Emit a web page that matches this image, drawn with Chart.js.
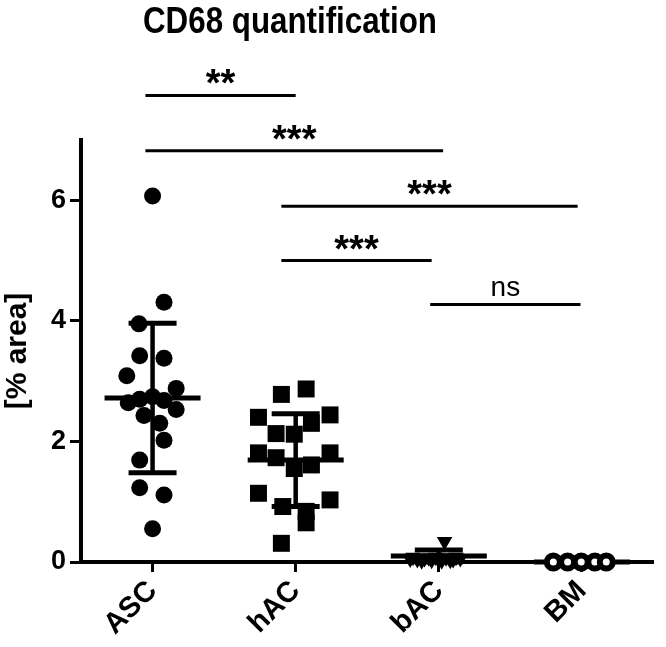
<!DOCTYPE html>
<html>
<head>
<meta charset="utf-8">
<script src="https://cdn.jsdelivr.net/npm/chart.js@4/dist/chart.umd.min.js"></script>
<style>
  html, body { margin: 0; padding: 0; background: #fff; }
</style>
</head>
<body>
<canvas id="cd68" width="666" height="647"></canvas>
<script>
// Groups and values
const groups = ["ASC", "hAC", "bAC", "BM"];

const ascY = [6.07, 4.31, 3.95, 3.42, 3.38, 3.09, 2.88, 2.64, 2.70, 2.74, 2.68, 2.53, 2.43, 2.30, 2.02, 1.69, 1.23, 1.11, 0.55];
const ascX = [0, 0.08, -0.095, -0.09, 0.08, -0.18, 0.165, -0.17, -0.09, 0, 0.08, 0.165, -0.06, 0.05, 0.08, -0.09, -0.09, 0.08, 0];

const hacY = [2.78, 2.87, 2.40, 2.44, 2.30, 2.13, 2.12, 1.81, 1.73, 1.81, 1.55, 1.61, 1.14, 1.03, 0.92, 0.84, 0.65, 0.31];
const hacX = [-0.1, 0.073, -0.26, 0.24, 0.11, -0.137, -0.01, -0.26, -0.137, 0.24, -0.01, 0.11, -0.26, 0.24, -0.09, 0.073, 0.073, -0.1];

const bacY = [0.34, 0.05, 0.04, 0.06, 0.03, 0.05, 0.07, 0.04, 0.06, 0.08, 0.02, 0.08, 0.03, 0.08, 0.07, 0.02];
const bacX = [0.04, -0.2, -0.15, -0.1, -0.05, 0, 0.05, 0.1, 0.15, -0.18, -0.12, -0.02, 0.08, 0.12, -0.07, 0.02];

const bmY = [0, 0, 0, 0, 0];
const bmX = [-0.2, -0.1, -0.005, 0.09, 0.17];

// mean and SD per group (error bars)
const groupMeans = [2.72, 1.69, 0.1, 0];
const groupSDs = [1.24, 0.77, 0.1, 0];

const yTicks = [0, 2, 4, 6];

// significance brackets
const sigFrom = [-0.05, -0.05, 0.9, 0.9, 1.94];
const sigTo = [1.0, 2.03, 2.97, 1.95, 2.99];
const sigLevel = [7.74, 6.82, 5.9, 5.0, 4.27];
const sigText = ["**", "***", "***", "***", "ns"];

const FONT = "'Liberation Sans', Arial, sans-serif";

function points(group, xs, ys) {
  return ys.map((v, i) => ({ x: group + xs[i], y: v }));
}

const statsPlugin = {
  id: "stats",
  beforeDatasetsDraw(chart) {
    const { ctx } = chart;
    const x = chart.scales.x;
    const y = chart.scales.y;
    ctx.save();
    ctx.strokeStyle = "#000";
    groups.forEach((g, i) => {
      const cx = x.getPixelForValue(i);
      const m = y.getPixelForValue(groupMeans[i]);
      const hi = y.getPixelForValue(groupMeans[i] + groupSDs[i]);
      const lo = y.getPixelForValue(groupMeans[i] - groupSDs[i]);
      ctx.lineWidth = 5;
      ctx.beginPath();
      ctx.moveTo(cx - 48, m);
      ctx.lineTo(cx + 48, m);
      ctx.stroke();
      if (groupSDs[i] > 0) {
        ctx.lineWidth = 4.5;
        ctx.beginPath();
        ctx.moveTo(cx, hi);
        ctx.lineTo(cx, lo);
        ctx.stroke();
        ctx.lineWidth = 5;
        ctx.beginPath();
        ctx.moveTo(cx - 24, hi);
        ctx.lineTo(cx + 24, hi);
        ctx.moveTo(cx - 24, lo);
        ctx.lineTo(cx + 24, lo);
        ctx.stroke();
      }
    });
    ctx.restore();
  },
  afterDraw(chart) {
    const { ctx } = chart;
    const x = chart.scales.x;
    const y = chart.scales.y;
    ctx.save();
    ctx.fillStyle = "#000";
    ctx.strokeStyle = "#000";
    ctx.lineWidth = 3;
    ctx.textAlign = "center";
    ctx.textBaseline = "alphabetic";
    sigText.forEach((t, i) => {
      const x1 = x.getPixelForValue(sigFrom[i]);
      const x2 = x.getPixelForValue(sigTo[i]);
      const ly = y.getPixelForValue(sigLevel[i]);
      ctx.beginPath();
      ctx.moveTo(x1, ly);
      ctx.lineTo(x2, ly);
      ctx.stroke();
      if (t === "ns") {
        ctx.font = "28px " + FONT;
        ctx.letterSpacing = "0px";
        ctx.fillText(t, (x1 + x2) / 2, ly - 9);
      } else {
        ctx.font = "bold 38px " + FONT;
        ctx.letterSpacing = "0px";
        ctx.fillText(t, (x1 + x2) / 2, ly + 1);
      }
    });

    // chart title, slightly condensed
    ctx.font = "bold 37px " + FONT;
    const title = "CD68 quantification";
    const w = ctx.measureText(title).width;
    ctx.translate(290, 33);
    ctx.scale(294 / w, 1);
    ctx.fillText(title, 0, 0);
    ctx.restore();
  }
};

new Chart(document.getElementById("cd68"), {
  type: "scatter",
  data: {
    datasets: [
      { label: "ASC", data: points(0, ascX, ascY), pointStyle: "circle", pointRadius: 8.5, backgroundColor: "#000", borderColor: "#000", borderWidth: 0 },
      { label: "hAC", data: points(1, hacX, hacY), pointStyle: "rect", pointRadius: 12, backgroundColor: "#000", borderColor: "#000", borderWidth: 0 },
      { label: "bAC", data: points(2, bacX, bacY), pointStyle: "triangle", pointRotation: 180, pointRadius: 9, backgroundColor: "#000", borderColor: "#000", borderWidth: 0 },
      { label: "BM", data: points(3, bmX, bmY), pointStyle: "circle", pointRadius: 6.5, backgroundColor: "#fff", borderColor: "#000", borderWidth: 6 }
    ]
  },
  options: {
    responsive: false,
    animation: false,
    clip: false,
    layout: { padding: { top: 140, left: 0, right: 0, bottom: 0 } },
    plugins: {
      legend: { display: false },
      tooltip: { enabled: false }
    },
    scales: {
      x: {
        type: "linear",
        min: -0.5,
        max: 3.5,
        afterBuildTicks: s => { s.ticks = groups.map((g, i) => ({ value: i })); },
        afterFit: s => { s.height = 85; },
        grid: { drawOnChartArea: false, drawTicks: true, tickLength: 10, tickWidth: 3, tickColor: "#000" },
        border: { color: "#000", width: 4 },
        ticks: {
          callback: v => groups[v],
          minRotation: 45,
          maxRotation: 45,
          padding: 2,
          color: "#000",
          font: { family: FONT, size: 29, weight: "bold" }
        }
      },
      y: {
        min: 0,
        max: 7,
        afterBuildTicks: s => { s.ticks = yTicks.map(v => ({ value: v })); },
        afterFit: s => { s.width = 81; },
        grid: { drawOnChartArea: false, drawTicks: true, tickLength: 11, tickWidth: 3, tickColor: "#000" },
        border: { color: "#000", width: 4 },
        ticks: {
          padding: 4,
          color: "#000",
          font: { family: FONT, size: 27, weight: "bold" }
        },
        title: {
          display: true,
          text: "[% area]",
          color: "#000",
          padding: { top: 0, bottom: 0 },
          font: { family: FONT, size: 30, weight: "bold" }
        }
      }
    }
  },
  plugins: [statsPlugin]
});
</script>
</body>
</html>
